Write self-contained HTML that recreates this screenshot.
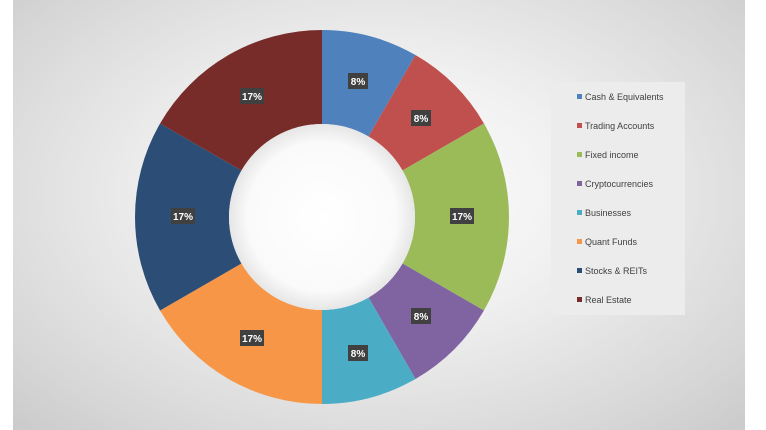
<!DOCTYPE html>
<html><head><meta charset="utf-8"><style>
html,body{margin:0;padding:0;width:766px;height:430px;background:#fff;overflow:hidden}
#c{position:absolute;left:13px;top:0;width:732px;height:430px;background:radial-gradient(ellipse 70% 75% at 50% 45%,#ffffff 0%,#f0f0f0 40%,#d6d6d6 85%,#cccccc 100%)}
svg{position:absolute;left:0;top:0}
text{font-family:"Liberation Sans",sans-serif}
</style></head><body>
<div id="c"></div>
<svg width="766" height="430" viewBox="0 0 766 430">
<defs><radialGradient id="h" cx="50%" cy="50%" r="50%"><stop offset="0" stop-color="#fff"/><stop offset="0.8" stop-color="#fafafa"/><stop offset="1" stop-color="#e6e6e6"/></radialGradient></defs>
<g>
<path d="M322,30 A187,187 0 0 1 415.5,55.06 L368.5,136.46 A93,93 0 0 0 322,124 Z" fill="#4f81bd"/>
<path d="M415.5,55.06 A187,187 0 0 1 483.94,123.5 L402.54,170.5 A93,93 0 0 0 368.5,136.46 Z" fill="#c0504d"/>
<path d="M483.94,123.5 A187,187 0 0 1 483.94,310.5 L402.54,263.5 A93,93 0 0 0 402.54,170.5 Z" fill="#9bbb59"/>
<path d="M483.94,310.5 A187,187 0 0 1 415.5,378.94 L368.5,297.54 A93,93 0 0 0 402.54,263.5 Z" fill="#8064a2"/>
<path d="M415.5,378.94 A187,187 0 0 1 322,404 L322,310 A93,93 0 0 0 368.5,297.54 Z" fill="#4bacc6"/>
<path d="M322,404 A187,187 0 0 1 160.06,310.5 L241.46,263.5 A93,93 0 0 0 322,310 Z" fill="#f79646"/>
<path d="M160.06,310.5 A187,187 0 0 1 160.06,123.5 L241.46,170.5 A93,93 0 0 0 241.46,263.5 Z" fill="#2c4d75"/>
<path d="M160.06,123.5 A187,187 0 0 1 322,30 L322,124 A93,93 0 0 0 241.46,170.5 Z" fill="#772c2a"/>
<circle cx="322" cy="217" r="93" fill="url(#h)"/>
</g>
<g font-size="10" font-weight="bold" fill="#fff" text-anchor="middle">
<rect x="348" y="73" width="20" height="16" fill="#404040"/><text x="358" y="85">8%</text>
<rect x="411" y="110" width="20" height="16" fill="#404040"/><text x="421" y="122">8%</text>
<rect x="450" y="208" width="24" height="16" fill="#404040"/><text x="462" y="220">17%</text>
<rect x="411" y="308" width="20" height="16" fill="#404040"/><text x="421" y="320">8%</text>
<rect x="348" y="345" width="20" height="16" fill="#404040"/><text x="358" y="357">8%</text>
<rect x="240" y="330" width="24" height="16" fill="#404040"/><text x="252" y="342">17%</text>
<rect x="171" y="208" width="24" height="16" fill="#404040"/><text x="183" y="220">17%</text>
<rect x="240" y="88" width="24" height="16" fill="#404040"/><text x="252" y="100">17%</text>
</g>
<rect x="551" y="82" width="134" height="233" fill="#ececec"/>
<g font-size="9" fill="#404040">
<rect x="577" y="94" width="5" height="5" fill="#4f81bd"/><text x="585" y="100">Cash &amp; Equivalents</text>
<rect x="577" y="123" width="5" height="5" fill="#c0504d"/><text x="585" y="129">Trading Accounts</text>
<rect x="577" y="152" width="5" height="5" fill="#9bbb59"/><text x="585" y="158">Fixed income</text>
<rect x="577" y="181" width="5" height="5" fill="#8064a2"/><text x="585" y="187">Cryptocurrencies</text>
<rect x="577" y="210" width="5" height="5" fill="#4bacc6"/><text x="585" y="216">Businesses</text>
<rect x="577" y="239" width="5" height="5" fill="#f79646"/><text x="585" y="245">Quant Funds</text>
<rect x="577" y="268" width="5" height="5" fill="#2c4d75"/><text x="585" y="274">Stocks &amp; REITs</text>
<rect x="577" y="297" width="5" height="5" fill="#772c2a"/><text x="585" y="303">Real Estate</text>
</g>
</svg>
</body></html>
